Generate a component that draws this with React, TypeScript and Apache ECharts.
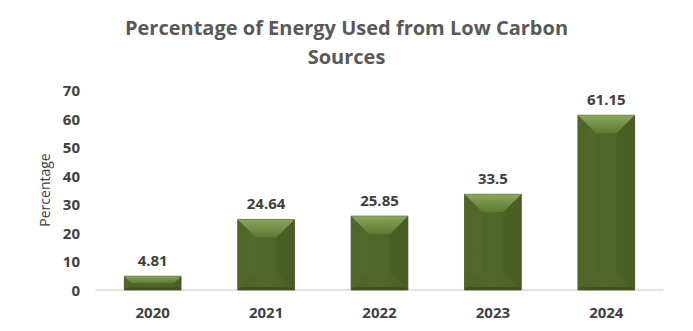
import React, { useEffect, useRef } from "react";
import * as echarts from "echarts";

const categories = ["2020", "2021", "2022", "2023", "2024"];
const values = [4.81, 24.64, 25.85, 33.5, 61.15];
const valueLabels = ["4.81", "24.64", "25.85", "33.5", "61.15"];
const yTicks = [0, 10, 20, 30, 40, 50, 60, 70];

const FONT = "'Open Sans', 'Liberation Sans', sans-serif";

export default function App() {
  const ref = useRef<HTMLDivElement>(null);
  useEffect(() => {
    if (!ref.current) return;
    const chart = echarts.init(ref.current, undefined, { renderer: "svg" });
    const renderItem = (params: any, api: any) => {
      const idx = api.value(0);
      const val = api.value(1);
      const top = api.coord([idx, val]);
      const bot = api.coord([idx, 0]);
      const w = api.size([1, 0])[0] * 0.5;
      const x0 = top[0] - w / 2;
      const x1 = top[0] + w / 2;
      const y0 = top[1];
      const y1 = bot[1];
      const h = y1 - y0;
      const b = Math.min(18, h / 2);
      const bv = Math.min(3, h / 5);
      return {
        type: "group",
        children: [
          {
            type: "rect",
            shape: { x: x0, y: y0, width: w, height: h },
            style: {
              fill: new echarts.graphic.LinearGradient(0, 0, 1, 0, [
                { offset: 0, color: "#4e6227" },
                { offset: 0.5, color: "#52662a" },
                { offset: 1, color: "#4c5f26" },
              ]),
              stroke: "#3f4f1e",
              lineWidth: 0.8,
            },
          },
          {
            type: "polygon",
            shape: { points: [[x0, y0], [x0 + b, y0 + b], [x0 + b, y1 - b], [x0, y1]] },
            style: { fill: "#55692d", opacity: 0.6 },
          },
          {
            type: "polygon",
            shape: { points: [[x1, y0], [x1 - b, y0 + b], [x1 - b, y1 - b], [x1, y1]] },
            style: { fill: "#485b23", opacity: 0.6 },
          },
          {
            type: "polygon",
            shape: { points: [[x0, y0], [x1, y0], [x1 - b, y0 + b], [x0 + b, y0 + b]] },
            style: {
              fill: new echarts.graphic.LinearGradient(0, 0, 0, 1, [
                { offset: 0, color: "#8aa75e" },
                { offset: 1, color: "#5d7830" },
              ]),
            },
          },
          {
            type: "polygon",
            shape: { points: [[x0, y1], [x1, y1], [x1 - bv, y1 - bv], [x0 + bv, y1 - bv]] },
            style: { fill: "#425320" },
          },
          {
            type: "text",
            style: {
              x: top[0],
              y: y0 - 9,
              text: valueLabels[idx],
              align: "center",
              verticalAlign: "bottom",
              fill: "#404040",
              font: `bold 15px ${FONT}`,
            },
          },
        ],
      };
    };
    chart.setOption({
      animation: false,
      title: {
        text: "Percentage of Energy Used from Low Carbon\nSources",
        left: "center",
        top: 8,
        textStyle: {
          fontFamily: FONT,
          fontSize: 20,
          fontWeight: "bold",
          color: "#595959",
          lineHeight: 29,
        },
      },
      grid: { left: 96, right: 30, top: 90, bottom: 41, containLabel: false },
      xAxis: {
        type: "category",
        data: categories,
        axisLine: { lineStyle: { color: "#d9d9d9", width: 1.5 } },
        axisTick: { show: false },
        axisLabel: {
          fontFamily: FONT,
          fontSize: 15,
          fontWeight: "bold",
          color: "#404040",
          margin: 14,
        },
      },
      yAxis: {
        type: "value",
        min: yTicks[0],
        max: yTicks[yTicks.length - 1],
        interval: 10,
        name: "Percentage",
        nameLocation: "middle",
        nameGap: 42,
        nameRotate: 90,
        nameTextStyle: {
          fontFamily: FONT,
          fontSize: 14,
          color: "#404040",
        },
        splitLine: { show: false },
        axisLine: { show: false },
        axisTick: { show: false },
        axisLabel: {
          fontFamily: FONT,
          fontSize: 15,
          fontWeight: "bold",
          color: "#404040",
          margin: 16,
        },
      },
      series: [
        {
          type: "custom",
          renderItem,
          data: values.map((v, i) => [i, v]),
          encode: { x: 0, y: 1 },
        },
      ],
    });
    return () => chart.dispose();
  }, []);
  return <div ref={ref} style={{ width: 693, height: 331, margin: -8 }} />;
}
